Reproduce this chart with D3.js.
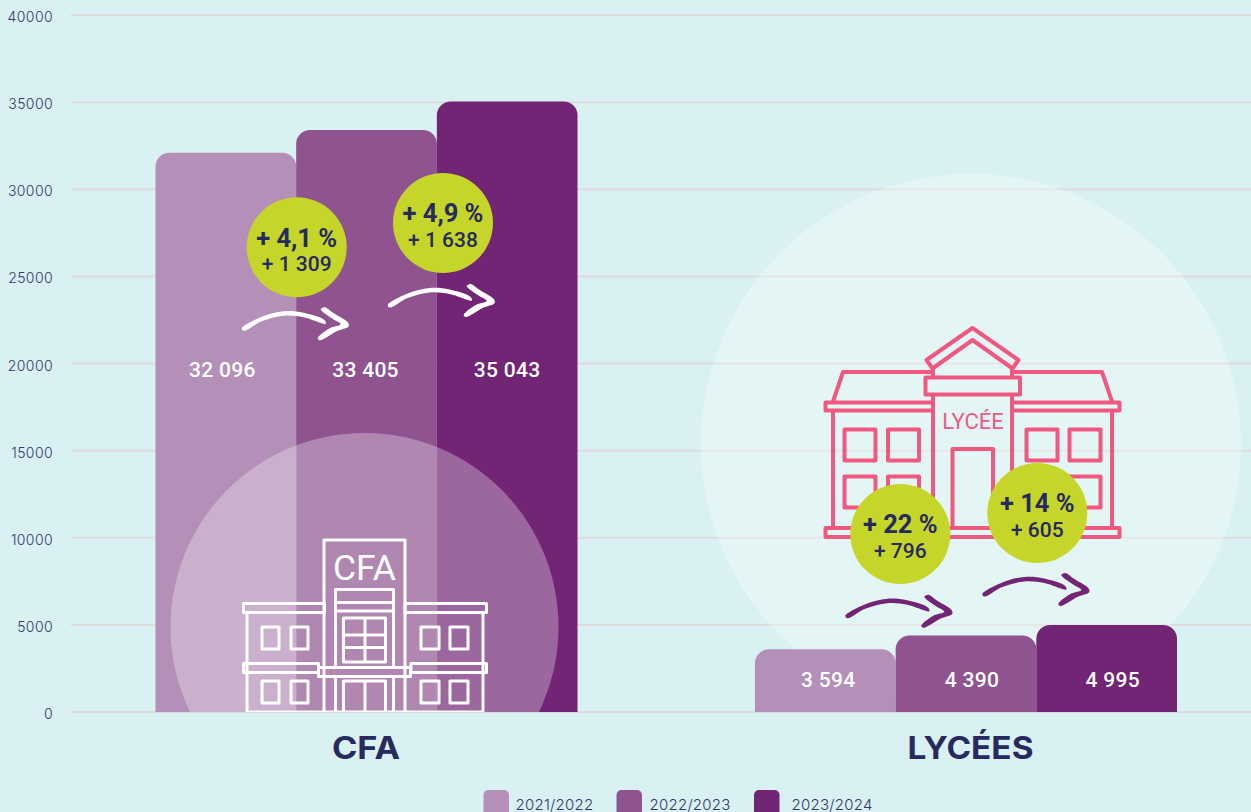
<!DOCTYPE html>
<html><head><meta charset="utf-8">
<script src="https://cdn.jsdelivr.net/npm/d3@7/dist/d3.min.js"></script>
<style>
html,body{margin:0;padding:0;background:#d9f1f2;overflow:hidden}
svg{display:block}
text{font-family:Roboto,sans-serif}
</style></head><body>
<script>
// ---- data ----
const categories = ["CFA", "LYCÉES"];
const years = ["2021/2022", "2022/2023", "2023/2024"];
const cfaValues = [32096, 33405, 35043];
const lyceeValues = [3594, 4390, 4995];
const valueLabelsCfa = ["32 096", "33 405", "35 043"];
const valueLabelsLycee = ["3 594", "4 390", "4 995"];
const yTicks = [0, 5000, 10000, 15000, 20000, 25000, 30000, 35000, 40000];
const pctCfa = ["+ 4,1 %", "+ 4,9 %"];
const deltaCfa = ["+ 1 309", "+ 1 638"];
const pctLycee = ["+ 22 %", "+ 14 %"];
const deltaLycee = ["+ 796", "+ 605"];
const yearColors = ["#b48fb8", "#8f548f", "#722574"];

const W = 1251, H = 812;
const NAVY = "#262a60", LIME = "#c5d52a", PINK = "#f0587f";
const svg = d3.select("body").append("svg").attr("width", W).attr("height", H);
svg.append("rect").attr("width", W).attr("height", H).attr("fill", "#d9f1f2");

const y = d3.scaleLinear().domain([0, 40000]).range([712, 15]);
const xGroup = d3.scaleBand().domain(categories).range([155.5, 1177]).paddingInner(0.296);
const xYear = d3.scaleBand().domain(years).range([0, xGroup.bandwidth()]);

svg.append("defs").append("clipPath").attr("id", "plot")
  .append("rect").attr("x", 0).attr("y", 0).attr("width", W).attr("height", y(0));

// axis + grid
const axis = d3.axisLeft(y).tickValues(yTicks).tickFormat(d3.format("d"))
  .tickSize(-(W - 71)).tickPadding(18).offset(0);
const gAxis = svg.append("g").attr("transform", "translate(71,0)").call(axis);
gAxis.select(".domain").remove();
gAxis.selectAll(".tick line").attr("stroke", "#dcdcdc").attr("stroke-width", 2);
gAxis.selectAll(".tick text").attr("fill", "#33366b").attr("dy", "0.5em")
  .style("font-family", "Inter").style("font-weight", 300).style("font-size", "14px").style("letter-spacing", "0.4px");

// Lycée background disc
svg.append("circle").attr("cx", 971).attr("cy", 444).attr("r", 270)
  .attr("fill", "#fff").attr("opacity", 0.3).attr("clip-path", "url(#plot)");

// bars
const R = 14;
function barPath(x0, x1, yTop, yBase) {
  const p = d3.path();
  p.moveTo(x0, yBase); p.lineTo(x0, yTop + R);
  p.arcTo(x0, yTop, x0 + R, yTop, R); p.lineTo(x1 - R, yTop);
  p.arcTo(x1, yTop, x1, yTop + R, R); p.lineTo(x1, yBase); p.closePath();
  return p.toString();
}
const groups = [
  {cat: "CFA", vals: cfaValues, labels: valueLabelsCfa, ly: 376.5, off: [-3.5, -1, 0]},
  {cat: "LYCÉES", vals: lyceeValues, labels: valueLabelsLycee, ly: 686.5, off: [3, 6, 6]}
];
groups.forEach(g => {
  svg.append("g").selectAll("path").data(g.vals).join("path")
    .attr("d", (d, i) => barPath(xGroup(g.cat) + xYear(years[i]), xGroup(g.cat) + xYear(years[i]) + xYear.bandwidth(), y(d), y(0)))
    .attr("fill", (d, i) => yearColors[i]);
});

// CFA disc
svg.append("circle").attr("cx", 364.5).attr("cy", 627).attr("r", 194)
  .attr("fill", "#fff").attr("opacity", 0.3).attr("clip-path", "url(#plot)");

// CFA icon (decoration)
const ci = svg.append("g").attr("fill", "none").attr("stroke", "#fff").attr("stroke-width", 3)
  .attr("stroke-linejoin", "round").attr("clip-path", "url(#plot)");
const cfaRects = [[324,540,81,172],[243.5,603.5,81,9],[405,603.5,81.5,9],[243.5,663.5,75,9],[411,663.5,75.5,9],
 [318.5,667.5,92,9],[262,627,17,22],[291,627,17,22],[421,627,18,22],[450,627,18,22],
 [262,681,17,22],[291,681,17,22],[421,681,18,22],[450,681,18,22],[343.5,618,42,44],[343.5,681,42,35]];
cfaRects.forEach(r => ci.append("rect").attr("x", r[0]).attr("y", r[1]).attr("width", r[2]).attr("height", r[3]));
["M247,612V712H324","M483,612V712H405","M335.5,667V589.5H393.5V667","M335.5,602.5H393.5","M335.5,611H393.5",
 "M365,618V662","M344,635H385","M344,647.5H385","M365,681V712","M335.5,677V712","M393.5,677V712"]
 .forEach(d => ci.append("path").attr("d", d));
svg.append("text").attr("x", 364.5).attr("y", 579.5).attr("text-anchor", "middle").attr("fill", "#fff")
  .style("font-weight", 400).style("font-size", "35.5px").text("CFA");

// Lycée icon (decoration)
const li = svg.append("g").attr("fill", "none").attr("stroke", PINK).attr("stroke-width", 4)
  .attr("stroke-linejoin", "round");
["M972.5,328L926.5,360L932.5,368.5L972.5,340L1012.5,368.5L1018.5,360Z",
 "M933,366V378","M1012,366V378","M925.5,377.5H1020V394.5H925.5Z","M933,395V530","M1012,395V530",
 "M932,372H843L833,401.5","M1013,372H1102L1112,401.5",
 "M933,402.5H825.5V410.5H933","M1012,402.5H1119.5V410.5H1012",
 "M833,411V527","M1112,411V527","M825.5,528H1119.5V537H825.5Z",
 "M952.5,530V449H993V530"].forEach(d => li.append("path").attr("d", d));
[[844.5,429.5,31,31],[888,429.5,31,31],[1026.5,429.5,31,31],[1069.5,429.5,31,31],
 [844.5,476.5,31,31],[888,476.5,31,31],[1069.5,476.5,31,31],[1026.5,476.5,31,31]]
 .forEach(r => li.append("rect").attr("x", r[0]).attr("y", r[1]).attr("width", r[2]).attr("height", r[3]));
svg.append("text").attr("x", 973).attr("y", 429).attr("text-anchor", "middle").attr("fill", PINK)
  .style("font-weight", 400).style("font-size", "22px").text("LYCÉE");

// value labels
groups.forEach(g => {
  svg.append("g").selectAll("text").data(g.labels).join("text")
    .attr("x", (d, i) => xGroup(g.cat) + xYear(years[i]) + xYear.bandwidth() / 2 + g.off[i])
    .attr("y", g.ly).attr("text-anchor", "middle").attr("fill", "#fff")
    .style("font-weight", 500).style("font-size", "21px").style("letter-spacing", "0.3px").text(d => d);
});

// arrows
const shaft = [[0,-1],[20,-12.5],[42,-18],[62,-16.5],[83,-9],[84,-5.5],[62,-12],[42,-13.5],[20,-8],[2,1.5]];
const head = [[79,-20],[83,-22],[92,-16],[106,-7],[107,-3],[95,2],[78,11],[76,9],[88,-1],[99,-5],[90,-11]];
const smooth = d3.line().curve(d3.curveCatmullRomClosed.alpha(0.5));
function arrow(x, yy, col) {
  const g = svg.append("g").attr("transform", `translate(${x},${yy})`).attr("fill", col);
  g.append("path").attr("d", smooth(shaft));
  g.append("path").attr("d", smooth(head));
}
arrow(241.7, 329.3, "#fff");
arrow(387.7, 306, "#fff");
arrow(845.3, 616.7, "#722574");
arrow(982.3, 595, "#722574");

// bubbles
function bubble(cx, cy, pct, delta) {
  svg.append("circle").attr("cx", cx).attr("cy", cy).attr("r", 50).attr("fill", LIME);
  svg.append("text").attr("x", cx).attr("y", cy - 0.7).attr("text-anchor", "middle").attr("fill", NAVY)
    .style("font-weight", 700).style("font-size", "25.5px").text(pct);
  svg.append("text").attr("x", cx).attr("y", cy + 24).attr("text-anchor", "middle").attr("fill", NAVY)
    .style("font-weight", 500).style("font-size", "21px").text(delta);
}
bubble(296.7, 247.3, pctCfa[0], deltaCfa[0]);
bubble(443, 223, pctCfa[1], deltaCfa[1]);
bubble(900.3, 534, pctLycee[0], deltaLycee[0]);
bubble(1037.3, 513, pctLycee[1], deltaLycee[1]);

// category titles
const titleWidths = [68, 126];
svg.append("g").selectAll("text").data(categories).join("text")
  .attr("x", d => xGroup(d) + xGroup.bandwidth() / 2 + (d === "CFA" ? -0.5 : 4.5)).attr("y", 759)
  .attr("text-anchor", "middle").attr("fill", NAVY)
  .attr("textLength", (d, i) => titleWidths[i]).attr("lengthAdjust", "spacingAndGlyphs")
  .style("font-family", "Inter").style("font-weight", 700).style("font-size", "31px").text(d => d);

// legend
const legendSwatchX = [483.5, 616.5, 754];
const legendTextX = [515.5, 649.5, 791.5];
years.forEach((yr, i) => {
  svg.append("rect").attr("x", legendSwatchX[i]).attr("y", 790).attr("width", 25.5).attr("height", 30)
    .attr("rx", 5).attr("fill", yearColors[i]);
  svg.append("text").attr("x", legendTextX[i]).attr("y", 809.5).attr("fill", "#33366b")
    .style("font-family", "Inter").style("font-weight", 300).style("font-size", "15px").style("letter-spacing", "0.25px").text(yr);
});
</script>
</body></html>
